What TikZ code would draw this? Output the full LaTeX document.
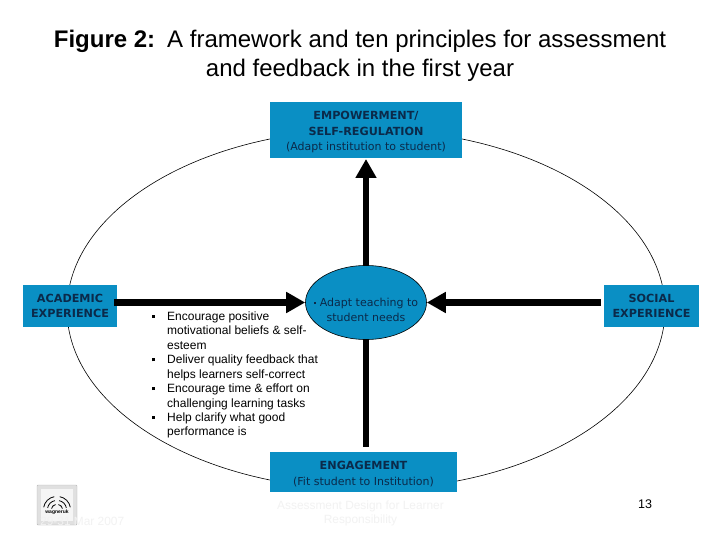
\documentclass[tikz,border=0pt]{standalone}
\usepackage{fontspec}
\setmainfont{Liberation Sans}
\newfontfamily\boxfont{DejaVu Sans}
\usepackage{tikz}
\usetikzlibrary{arrows.meta}
\usetikzlibrary{positioning}
\usetikzlibrary{shapes.geometric}
\definecolor{boxblue}{HTML}{0A8FC4}
\definecolor{boxtext}{HTML}{0B2A4A}
\definecolor{footgrey}{HTML}{F2F2F2}
\tikzset{
    bluebox/.style={fill=boxblue, text=boxtext, align=center, inner sep=0pt},
    boldlabel/.style={text=boxtext, font=\boxfont\bfseries\fontsize{11.2}{15.8}\selectfont, align=center, inner sep=0pt},
    sublabel/.style={text=boxtext, font=\boxfont\fontsize{11}{15}\selectfont, align=center, inner sep=0pt},
    thickline/.style={line width=6.5pt, draw=black},
    thickarrow/.style={thickline, -{Triangle[width=20pt,length=19pt]}},
    bullettext/.style={font=\fontsize{12}{14.45}\selectfont, align=left, anchor=north west, inner sep=0pt},
    foottext/.style={text=footgrey, font=\fontsize{11.9}{14}\selectfont, align=center, inner sep=0pt},
}
\newcommand{\bulletmark}{\makebox[17.5pt][l]{\hspace{2pt}\rule[2.4pt]{3pt}{3pt}}}
\newcommand{\bulletgap}{\hspace{17.5pt}}
\begin{document}
\begin{tikzpicture}[x=1pt,y=1pt]
        \useasboundingbox (0, 0) rectangle (720, -540);
        \fill[white] (0, 0) rectangle (720, -540);
        % outer ring
        \draw[black, line width=0.6pt] (366, -309.5) ellipse [x radius=299, y radius=180];
        % title
        \node[font=\fontsize{24}{29}\selectfont, align=center, inner sep=0pt] (title) at (360, -55.5) {\textbf{Figure 2:}\enspace A framework and ten principles for assessment\\ and feedback in the first year};
        % boxes
        \node[bluebox, minimum width=192pt, minimum height=56pt] (empower) at (366, -130) {};
        \node[boldlabel] (empowertext) at (366, -123.5) {EMPOWERMENT/\\SELF-REGULATION};
        \node[sublabel] (empowersub) at (366, -147.5) {(Adapt institution to student)};
        \node[bluebox, boldlabel, fill=boxblue, minimum width=94pt, minimum height=42pt] (academic) at (70, -306) {ACADEMIC\\EXPERIENCE};
        \node[bluebox, boldlabel, fill=boxblue, minimum width=95pt, minimum height=42pt] (social) at (651.5, -306) {SOCIAL\\EXPERIENCE};
        \node[bluebox, minimum width=187pt, minimum height=40pt] (engage) at (363.5, -472) {};
        \node[boldlabel] (engagetext) at (363.5, -465) {ENGAGEMENT};
        \node[sublabel] (engagesub) at (363.5, -482) {(Fit student to Institution)};
        % centre
        \node[ellipse, draw=black, line width=0.6pt, fill=boxblue, minimum width=121pt, minimum height=74pt, inner sep=0pt] (adapt) at (366, -302.5) {};
        \node[sublabel] (adapttext) at (366, -310) {\rule[2.5pt]{2.5pt}{2.5pt} Adapt teaching to\\student needs};
        \coordinate (academicend) at (114, -302.5);
        \coordinate (socialend) at (601, -302.5);
        \coordinate (engagetop) at (366, -447);
        \coordinate (empowerarrow) at (366, -159);
        % connectors
        \draw[thickarrow] (academicend) -- (adapt.west);
        \draw[thickarrow] (socialend) -- (adapt.east);
        \draw[thickarrow] (adapt.north) -- (empowerarrow);
        \draw[thickline] (adapt.south) -- (engagetop);
        % bullet list
        \node[bullettext] (bullets) at (149.5, -311.5) {\bulletmark Encourage positive\\
            \bulletgap motivational beliefs \& self-\\
            \bulletgap esteem\\
            \bulletmark Deliver quality feedback that\\
            \bulletgap helps learners self-correct\\
            \bulletmark Encourage time \& effort on\\
            \bulletgap challenging learning tasks\\
            \bulletmark Help clarify what good\\
            \bulletgap performance is};
        % footer
        \node[foottext] (footcentre) at (360.5, -513) {Assessment Design for Learner\\Responsibility};
        \node[font=\fontsize{12.5}{14}\selectfont, inner sep=0pt] (pagenum) at (645, -504) {13};
        % logo
        \draw[fill=black!12, draw=black!28, rounded corners=1pt] (37, -485) rectangle (77, -525);
        \fill[black!4] (41, -489) rectangle (73, -521);
        \foreach \r in {5, 9, 13} {
            \draw[black, line width=0.8pt] (56.5, -509.5) ++(170:\r) arc (170:100:\r);
            \draw[black, line width=0.8pt] (57.5, -509.5) ++(80:\r) arc (80:10:\r);
        }
        \node[font=\bfseries\fontsize{5}{5}\selectfont, inner sep=0pt] (logotext) at (57, -512) {wagneruk};
        \node[foottext, anchor=west] (footdate) at (40, -521.5) {29-31 Mar 2007};
\end{tikzpicture}
\end{document}
